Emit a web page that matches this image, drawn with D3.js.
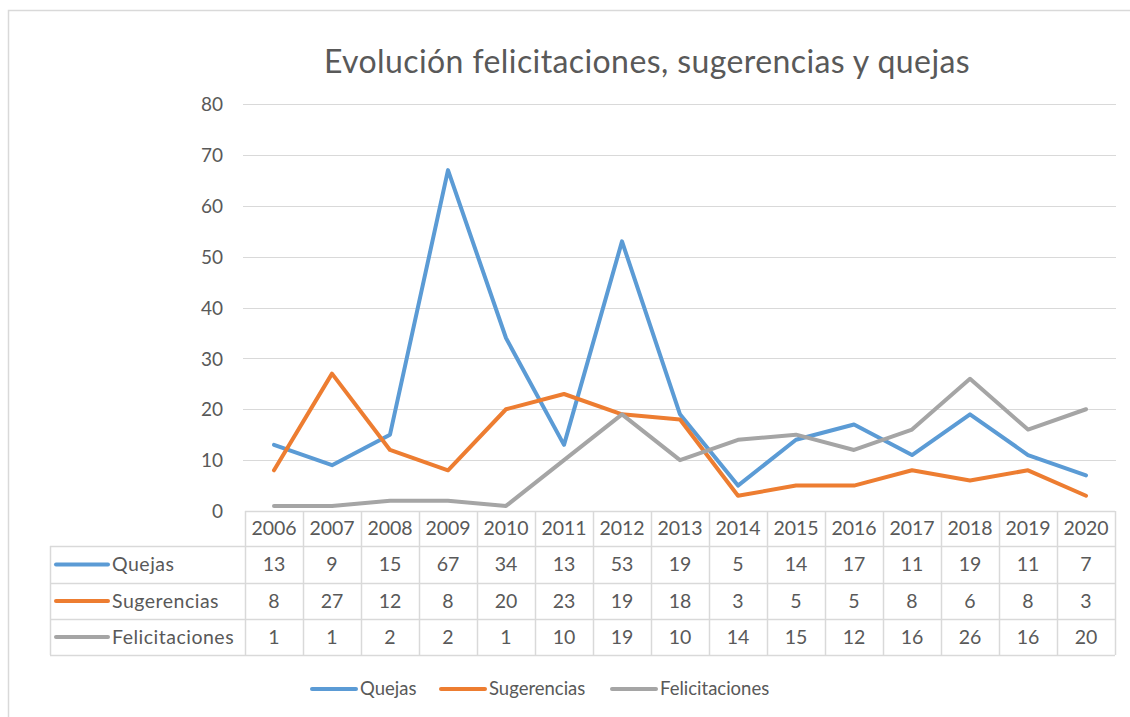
<!DOCTYPE html>
<html><head><meta charset="utf-8">
<script src="https://cdn.jsdelivr.net/npm/d3@7"></script>
<style>body{margin:0;background:#fff;} text{font-family:Lato, "Open Sans", sans-serif;fill:#595959;}</style>
</head><body><svg id="c" width="1130" height="717"></svg>
<script>
const years = ["2006","2007","2008","2009","2010","2011","2012","2013","2014","2015","2016","2017","2018","2019","2020"];
const quejas = [13,9,15,67,34,13,53,19,5,14,17,11,19,11,7];
const sugerencias = [8,27,12,8,20,23,19,18,3,5,5,8,6,8,3];
const felicitaciones = [1,1,2,2,1,10,19,10,14,15,12,16,26,16,20];
const yTicks = [0,10,20,30,40,50,60,70,80];
const seriesNames = ["Quejas","Sugerencias","Felicitaciones"];
const colors = ["#5B9BD5","#ED7D31","#A5A5A5"];
const title = "Evolución felicitaciones, sugerencias y quejas";

const series = [quejas, sugerencias, felicitaciones];
const svg = d3.select("#c");
// outer border
svg.append("path").attr("d","M8.5,717 V10.5 H1130").attr("fill","none").attr("stroke","#d9d9d9").attr("stroke-width",1.5);

const x = d3.scaleBand().domain(years).range([245,1115]);
const y = d3.scaleLinear().domain([0,80]).range([511,104]);

svg.append("text").attr("x",647).attr("y",73).attr("text-anchor","middle")
  .style("font-size","32px").style("letter-spacing","0.4px").text(title);

// gridlines
svg.append("g").selectAll("line").data(yTicks.filter(d=>d>0)).join("line")
  .attr("x1",243).attr("x2",1116).attr("y1",d=>Math.round(y(d))+0.5).attr("y2",d=>Math.round(y(d))+0.5)
  .attr("stroke","#d9d9d9").attr("stroke-width",1);

const yAxis = d3.axisLeft(y).tickValues(yTicks).tickSize(0).tickPadding(0);
const ya = svg.append("g").attr("transform","translate(223,0)").call(yAxis);
ya.select(".domain").remove();
ya.selectAll("text").style("font-size","19px").style("font-family","Lato, sans-serif").attr("fill","#595959").attr("dy","0.35em");

// lines
const line = d3.line().x((d,i)=>x(years[i])+x.bandwidth()/2).y(d=>y(d));
svg.append("g").selectAll("path").data(series).join("path")
  .attr("d",d=>line(d)).attr("fill","none").attr("stroke",(d,i)=>colors[i])
  .attr("stroke-width",4).attr("stroke-linecap","round").attr("stroke-linejoin","round");

// data table
const rowTops = [511,546,583,619,655];
const tg = svg.append("g");
const bc = "#d9d9d9";
tg.append("line").attr("x1",245).attr("x2",1115).attr("y1",rowTops[0]+0.5).attr("y2",rowTops[0]+0.5).attr("stroke",bc).attr("stroke-width",1.5);
[1,2,3,4].forEach(r=>tg.append("line").attr("x1",50).attr("x2",1115).attr("y1",rowTops[r]+0.5).attr("y2",rowTops[r]+0.5).attr("stroke",bc).attr("stroke-width",1.5));
tg.append("line").attr("x1",50.5).attr("x2",50.5).attr("y1",rowTops[1]).attr("y2",rowTops[4]).attr("stroke",bc).attr("stroke-width",1.5);
const colEdges = years.map(d=>x(d)).concat([1115]);
tg.selectAll("line.v").data(colEdges).join("line").attr("class","v")
  .attr("x1",d=>Math.round(d)+0.5).attr("x2",d=>Math.round(d)+0.5).attr("y1",rowTops[0]).attr("y2",rowTops[4])
  .attr("stroke",bc).attr("stroke-width",1.5);
tg.selectAll("text.yr").data(years).join("text").attr("class","yr")
  .attr("x",d=>x(d)+x.bandwidth()/2).attr("y",(rowTops[0]+rowTops[1])/2).attr("dy","0.35em")
  .attr("text-anchor","middle").style("font-size","19.5px").text(d=>d);
series.forEach((s,r)=>{
  const cy = (rowTops[r+1]+rowTops[r+2])/2;
  tg.selectAll("text.v"+r).data(s).join("text").attr("class","v"+r)
    .attr("x",(d,i)=>x(years[i])+x.bandwidth()/2).attr("y",cy).attr("dy","0.35em")
    .attr("text-anchor","middle").style("font-size","19.5px").text(d=>d);
  tg.append("line").attr("x1",56).attr("x2",108).attr("y1",cy).attr("y2",cy)
    .attr("stroke",colors[r]).attr("stroke-width",4).attr("stroke-linecap","round");
  tg.append("text").attr("x",112).attr("y",cy).attr("dy","0.35em").style("font-size","19.5px")
    .style("letter-spacing","0.5px").text(seriesNames[r]);
});

// legend
const legX = [312,441,612];
const lg = svg.append("g");
seriesNames.forEach((n,i)=>{
  lg.append("line").attr("x1",legX[i]).attr("x2",legX[i]+44).attr("y1",689).attr("y2",689)
    .attr("stroke",colors[i]).attr("stroke-width",4).attr("stroke-linecap","round");
  lg.append("text").attr("x",legX[i]+48).attr("y",689).attr("dy","0.35em").style("font-size","18.5px").text(n);
});
</script></body></html>
